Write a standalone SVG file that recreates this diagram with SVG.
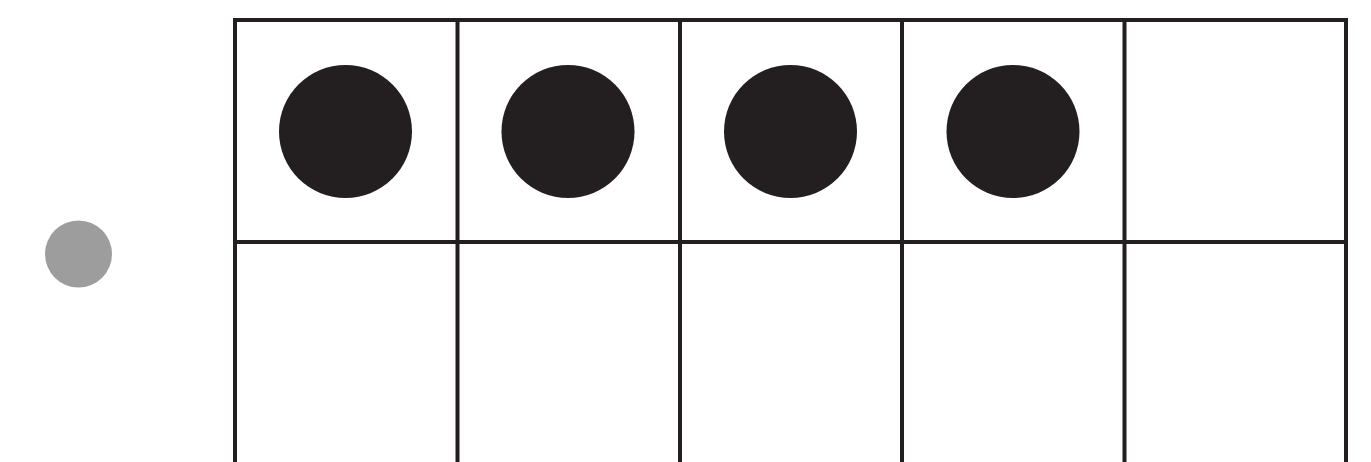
<svg xmlns="http://www.w3.org/2000/svg" width="1371" height="462" viewBox="0 0 1371 462">
<style>
.grid{fill:none;stroke:#231f20;stroke-width:4}
.dot{fill:#231f20}
.gray{fill:#9d9d9d}
</style>
<rect width="1371" height="462" fill="#ffffff"/>
<g id="frame">
<path class="grid" d="M235,470 V20 H1346 V470 M235,242 H1346 M457.5,20 V470 M680,20 V470 M902,20 V470 M1124.5,20 V470"/>
</g>
<g id="counter">
<circle class="gray" cx="78.5" cy="254" r="33.5"/>
</g>
<g id="dot1"><circle class="dot" cx="345.5" cy="131.5" r="66.5"/></g>
<g id="dot2"><circle class="dot" cx="568" cy="131.5" r="66.5"/></g>
<g id="dot3"><circle class="dot" cx="790.5" cy="131.5" r="66.5"/></g>
<g id="dot4"><circle class="dot" cx="1013" cy="131.5" r="66.5"/></g>
</svg>
